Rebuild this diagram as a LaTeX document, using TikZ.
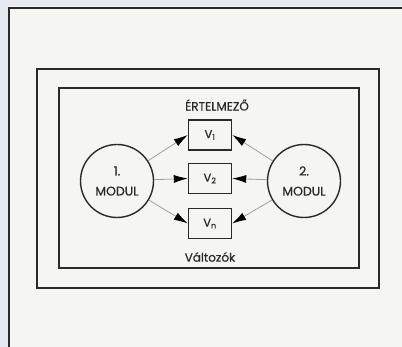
\documentclass[tikz,border=0pt]{standalone}
\usepackage{fontspec}
\setmainfont{Poppins}[FakeBold=0.6]
\usetikzlibrary{arrows.meta}
\definecolor{paper}{HTML}{F5F5F1}
\definecolor{strip}{HTML}{E4EAF0}
\definecolor{ink}{HTML}{2A2A2A}
\tikzset{
  frame/.style={draw=ink, line width=1.7pt},
  modul/.style={circle, draw=ink, line width=1.4pt, minimum size=73pt, inner sep=0pt, align=center, font=\fontsize{12.5}{20}\selectfont, text=ink},
  varbox/.style={rectangle, draw=ink, line width=1.4pt, minimum width=43pt, minimum height=30pt, inner sep=0pt, font=\fontsize{11.5}{13}\selectfont, text=ink},
  lbl/.style={font=\fontsize{12}{13}\selectfont, text=ink},
  arr/.style={draw=gray!75, line width=0.8pt, -{Latex[length=14pt,width=8pt,fill=black,color=black]}}
}
\begin{document}
\begin{tikzpicture}[x=1pt,y=-1pt]
\useasboundingbox (0,0) rectangle (402,347);
\fill[paper] (0,0) rectangle (402,347);
\fill[strip] (0,0) rectangle (8,347);
\fill[strip] (0,0) rectangle (402,6);
\draw[draw=ink, line width=1.8pt] (9,347) -- (9,8) -- (402,8);
\draw[frame] (37,69) rectangle (379,288);
\draw[frame] (59,88) rectangle (359,268);
\node[lbl] (title) at (217,105) {ÉRTELMEZŐ};
\node[lbl] (vars) at (210,257) {Változók};
\node[varbox] (v1) at (210,135) {V\textsubscript{1}};
\node[varbox] (v2) at (210,178.5) {V\textsubscript{2}};
\node[varbox] (vn) at (210,223.5) {V\textsubscript{n}};
\node[modul] (m1) at (117,181) {1.\\MODUL};
\node[modul] (m2) at (304,181) {2.\\MODUL};
\draw[arr] (m1) -- (v1.west);
\draw[arr] (m1) -- (v2.west);
\draw[arr] (m1) -- (vn.west);
\draw[arr] (m2) -- (v1.east);
\draw[arr] (m2) -- (v2.east);
\draw[arr] (m2) -- (vn.east);
\end{tikzpicture}
\end{document}
